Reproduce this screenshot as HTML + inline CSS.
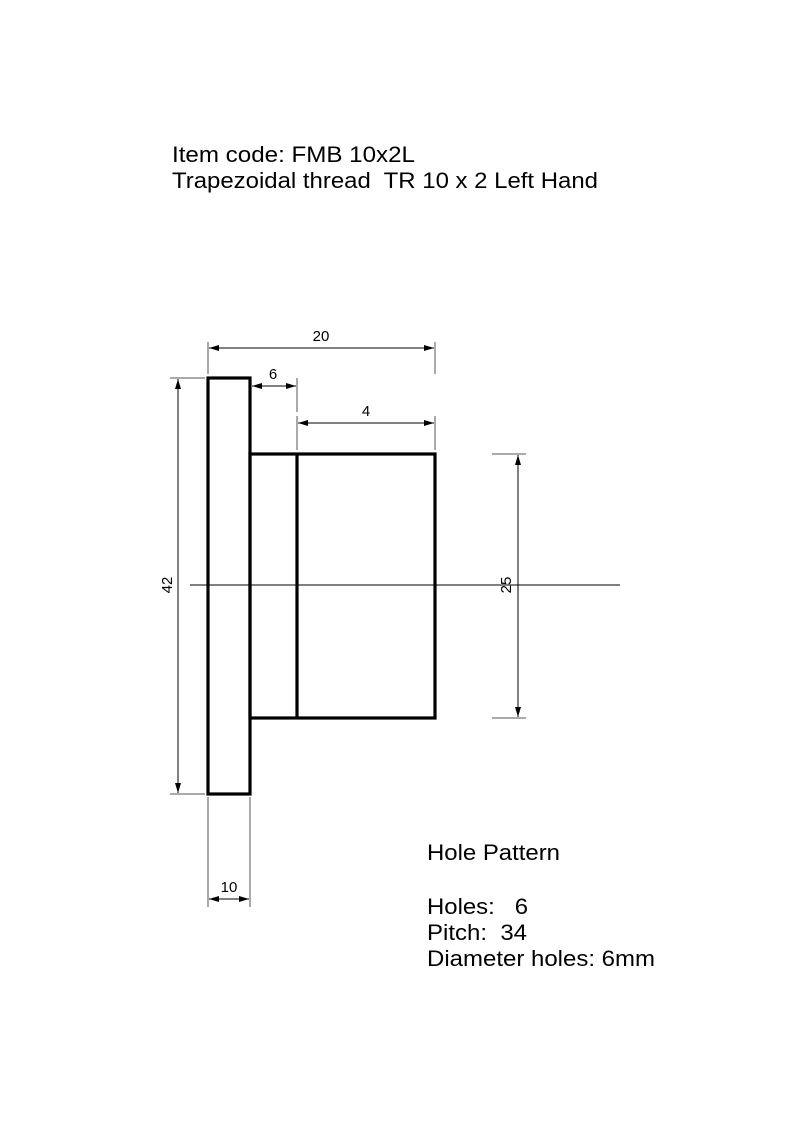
<!DOCTYPE html>
<html><head><meta charset="utf-8"><style>
html,body{margin:0;padding:0;background:#fff;}
svg{display:block;}
text{font-family:"Liberation Sans",Arial,sans-serif;fill:#000;}
</style></head><body>
<svg width="794" height="1123" viewBox="0 0 794 1123" xmlns="http://www.w3.org/2000/svg">
<defs>
<marker id="a" viewBox="0 0 10 6" refX="10" refY="3" markerWidth="10" markerHeight="6" orient="auto-start-reverse" markerUnits="userSpaceOnUse">
<path d="M0,0 L10,3 L0,6 z" fill="#000"/></marker>
</defs>
<text x="172" y="162" font-size="22" xml:space="preserve" textLength="243" lengthAdjust="spacingAndGlyphs">Item code: FMB 10x2L</text>
<text x="172" y="188" font-size="22" xml:space="preserve" textLength="426" lengthAdjust="spacingAndGlyphs">Trapezoidal thread  TR 10 x 2 Left Hand</text>

<g fill="none" stroke="#000" stroke-width="3.2">
<rect x="208" y="378" width="42" height="416"/>
<rect x="250" y="454" width="185" height="264"/>
<line x1="297" y1="454" x2="297" y2="718"/>
</g>
<line x1="190" y1="585" x2="620" y2="585" stroke="#000" stroke-width="1"/>

<g stroke="#555" stroke-width="1">
<line x1="208" y1="342" x2="208" y2="374"/>
<line x1="435" y1="342" x2="435" y2="374"/>
<line x1="297" y1="378" x2="297" y2="412"/>
<line x1="297" y1="416" x2="297" y2="450"/>
<line x1="435" y1="416" x2="435" y2="450"/>
<line x1="170" y1="378" x2="205" y2="378"/>
<line x1="170" y1="794" x2="205" y2="794"/>
<line x1="492" y1="454" x2="526" y2="454"/>
<line x1="492" y1="718" x2="526" y2="718"/>
<line x1="208" y1="797" x2="208" y2="907"/>
<line x1="250" y1="797" x2="250" y2="907"/>
</g>
<g stroke="#000" stroke-width="1" marker-start="url(#a)" marker-end="url(#a)">
<line x1="209" y1="348" x2="434" y2="348"/>
<line x1="252" y1="386" x2="296" y2="386"/>
<line x1="298" y1="423" x2="434" y2="423"/>
<line x1="178" y1="379" x2="178" y2="793"/>
<line x1="518" y1="455" x2="518" y2="717"/>
<line x1="209" y1="899" x2="249" y2="899"/>
</g>
<g font-size="15">
<text x="321" y="341" text-anchor="middle">20</text>
<text x="273" y="379" text-anchor="middle">6</text>
<text x="366" y="416" text-anchor="middle">4</text>
<text x="229" y="892" text-anchor="middle">10</text>
<text transform="translate(172,585) rotate(-90)" text-anchor="middle">42</text>
<text transform="translate(511,585) rotate(-90)" text-anchor="middle">25</text>
</g>

<g font-size="22">
<text x="427" y="860" textLength="133" lengthAdjust="spacingAndGlyphs">Hole Pattern</text>
<text x="427" y="914" xml:space="preserve" textLength="101" lengthAdjust="spacingAndGlyphs">Holes:   6</text>
<text x="427" y="940" xml:space="preserve" textLength="100" lengthAdjust="spacingAndGlyphs">Pitch:  34</text>
<text x="427" y="966" textLength="228" lengthAdjust="spacingAndGlyphs">Diameter holes: 6mm</text>
</g>
</svg>
</body></html>
